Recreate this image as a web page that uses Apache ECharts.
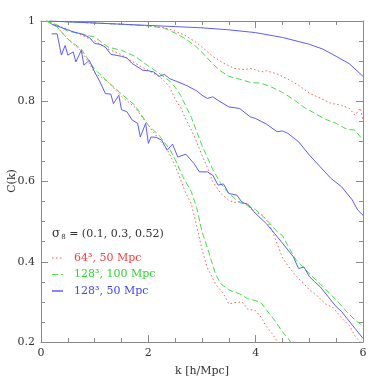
<!DOCTYPE html>
<html>
<head>
<meta charset="utf-8">
<script src="https://cdn.jsdelivr.net/npm/echarts@6/dist/echarts.min.js"></script>
<style>html,body{margin:0;padding:0;background:#fff}#c{width:383px;height:383px}</style>
</head>
<body>
<div id="c"></div>
<script>
// Legend / series names
const simNames = ['64\u00b3, 50 Mpc', '128\u00b3, 100 Mpc', '128\u00b3, 50 Mpc'];
const sigmaLabel = ['0.1', '0.3', '0.52'];
const xTicks = [0, 2, 4, 6];
const yTicks = [0.2, 0.4, 0.6, 0.8, 1];
const xTitle = 'k [h/Mpc]';
const yTitle = 'C(k)';

// 64^3, 50 Mpc (red dotted), sigma8 = 0.1, 0.3, 0.52
const red_s01 = [[0.1,1],[0.5,0.998],[1,0.995],[1.5,0.992],[2,0.988],[2.3,0.983],[2.5,0.975],[2.7,0.963],[2.9,0.946],[3.0,0.935],[3.2,0.912],[3.4,0.895],[3.6,0.882],[3.8,0.879],[3.9,0.882],[4.0,0.878],[4.1,0.873],[4.2,0.876],[4.4,0.868],[4.6,0.855],[4.8,0.840],[5.0,0.82],[5.2,0.808],[5.4,0.795],[5.6,0.79],[5.75,0.782],[5.85,0.765],[5.95,0.783],[6.0,0.753]];
const red_s03 = [[0.1,1.0],[0.3,0.99],[0.5,0.978],[0.75,0.965],[1,0.950],[1.25,0.930],[1.5,0.916],[1.75,0.895],[2,0.877],[2.2,0.862],[2.3,0.850],[2.4,0.835],[2.5,0.805],[2.6,0.785],[2.7,0.755],[2.85,0.715],[3.0,0.665],[3.1,0.635],[3.2,0.600],[3.35,0.570],[3.5,0.553],[3.6,0.548],[3.75,0.550],[3.85,0.540],[4.0,0.520],[4.1,0.520],[4.2,0.505],[4.3,0.480],[4.4,0.445],[4.5,0.410],[4.6,0.390],[4.75,0.365],[4.9,0.345],[5.0,0.330],[5.15,0.315],[5.3,0.295],[5.45,0.285],[5.6,0.260],[5.75,0.240],[5.85,0.215],[5.95,0.200]];
const red_s052 = [[0.1,1.0],[0.3,0.985],[0.5,0.955],[0.75,0.925],[0.9,0.895],[1.0,0.870],[1.1,0.862],[1.25,0.848],[1.5,0.812],[1.75,0.785],[2.0,0.740],[2.2,0.705],[2.35,0.680],[2.5,0.640],[2.6,0.605],[2.7,0.570],[2.8,0.545],[2.9,0.490],[3.0,0.430],[3.1,0.385],[3.25,0.345],[3.4,0.320],[3.5,0.295],[3.6,0.298],[3.75,0.300],[3.85,0.282],[4.0,0.278],[4.1,0.262],[4.2,0.238],[4.3,0.222],[4.4,0.202]];

// 128^3, 100 Mpc (green dashed)
const green_s01 = [[0.1,1],[0.5,0.998],[1,0.995],[1.5,0.992],[2,0.988],[2.3,0.982],[2.5,0.970],[2.7,0.955],[2.9,0.935],[3.0,0.922],[3.2,0.893],[3.35,0.875],[3.5,0.862],[3.7,0.855],[3.9,0.847],[4.1,0.845],[4.3,0.835],[4.5,0.822],[4.7,0.805],[4.9,0.785],[5.1,0.770],[5.3,0.755],[5.5,0.745],[5.7,0.730],[5.85,0.728],[6.0,0.703]];
const green_s03 = [[0.1,1.0],[0.3,0.99],[0.5,0.975],[0.75,0.968],[1,0.960],[1.25,0.935],[1.5,0.927],[1.75,0.912],[2,0.888],[2.2,0.870],[2.4,0.850],[2.5,0.835],[2.6,0.815],[2.8,0.760],[3.0,0.690],[3.1,0.660],[3.2,0.630],[3.35,0.595],[3.5,0.570],[3.7,0.548],[3.85,0.540],[4.0,0.530],[4.2,0.505],[4.4,0.475],[4.5,0.465],[4.6,0.440],[4.75,0.405],[4.9,0.385],[5.0,0.370],[5.2,0.345],[5.4,0.318],[5.5,0.305],[5.7,0.275],[5.85,0.255],[5.95,0.245],[6.0,0.240]];
const green_s052 = [[0.1,1.0],[0.3,0.985],[0.5,0.955],[0.75,0.930],[1.0,0.880],[1.25,0.848],[1.5,0.818],[1.75,0.790],[2.0,0.740],[2.2,0.715],[2.4,0.680],[2.5,0.655],[2.65,0.610],[2.8,0.575],[2.9,0.535],[3.0,0.475],[3.1,0.435],[3.25,0.370],[3.35,0.345],[3.5,0.330],[3.7,0.320],[3.85,0.308],[4.0,0.303],[4.1,0.298],[4.2,0.280],[4.35,0.255],[4.5,0.225],[4.6,0.210],[4.65,0.200]];

// 128^3, 50 Mpc (blue solid)
const blue_s01 = [[0.15,1.0],[0.5,0.998],[1,0.995],[1.5,0.992],[2,0.989],[2.5,0.986],[3,0.983],[3.5,0.978],[4,0.971],[4.5,0.959],[5,0.942],[5.25,0.93],[5.5,0.912],[5.75,0.893],[6,0.862]];
const blue_s03 = [[0.2,0.992],[0.35,0.985],[0.5,0.978],[0.6,0.973],[0.75,0.968],[0.9,0.959],[1.0,0.944],[1.1,0.942],[1.2,0.935],[1.3,0.917],[1.5,0.912],[1.6,0.908],[1.7,0.894],[1.9,0.877],[2.0,0.876],[2.1,0.873],[2.2,0.862],[2.3,0.867],[2.4,0.856],[2.5,0.851],[2.7,0.840],[2.9,0.826],[3.0,0.815],[3.1,0.807],[3.2,0.811],[3.3,0.802],[3.5,0.786],[3.7,0.782],[3.9,0.761],[4.0,0.757],[4.2,0.743],[4.4,0.724],[4.5,0.726],[4.6,0.720],[4.8,0.699],[5.0,0.666],[5.2,0.637],[5.4,0.608],[5.6,0.587],[5.8,0.554],[5.9,0.529],[6.0,0.516]];
const blue_s052 = [[0.2,0.968],[0.3,0.968],[0.38,0.915],[0.45,0.939],[0.5,0.915],[0.6,0.923],[0.65,0.898],[0.75,0.927],[0.8,0.890],[0.9,0.902],[1.0,0.873],[1.1,0.848],[1.2,0.819],[1.3,0.818],[1.35,0.794],[1.45,0.815],[1.5,0.779],[1.6,0.774],[1.7,0.753],[1.8,0.745],[1.85,0.711],[1.95,0.745],[2.0,0.695],[2.05,0.711],[2.15,0.710],[2.25,0.703],[2.35,0.678],[2.45,0.693],[2.55,0.661],[2.7,0.668],[2.85,0.645],[2.95,0.624],[3.1,0.624],[3.2,0.616],[3.3,0.591],[3.4,0.594],[3.5,0.570],[3.65,0.566],[3.75,0.547],[3.85,0.544],[4.0,0.520],[4.2,0.495],[4.35,0.471],[4.5,0.446],[4.7,0.413],[4.8,0.383],[4.9,0.387],[5.0,0.363],[5.1,0.350],[5.2,0.338],[5.35,0.313],[5.5,0.288],[5.6,0.276],[5.7,0.259],[5.85,0.234],[6.0,0.209]];

const RED = '#ff5a5a', GREEN = '#44e044', BLUE = '#5c5cff';
const LEG_TEXT = ['#ff3b3b', '#2fd42f', '#4040ff'];
const LINE_COL = [RED, GREEN, BLUE];
const DASH = [[1.5, 2.5], [6, 3], null];
const FONT = 'DejaVu Serif';
const AX = '#8a8a8a';

function mk(name, data, color, type) {
  return {
    name: name, type: 'line', data: data, symbol: 'none', showSymbol: false,
    clip: true, animation: false, silent: true,
    lineStyle: { color: color, width: 1, type: type || 'solid' },
    itemStyle: { color: color }
  };
}

const series = [
  mk(simNames[0], red_s01, RED, DASH[0]),
  mk(simNames[0], red_s03, RED, DASH[0]),
  mk(simNames[0], red_s052, RED, DASH[0]),
  mk(simNames[1], green_s01, GREEN, DASH[1]),
  mk(simNames[1], green_s03, GREEN, DASH[1]),
  mk(simNames[1], green_s052, GREEN, DASH[1]),
  mk(simNames[2], blue_s01, BLUE, DASH[2]),
  mk(simNames[2], blue_s03, BLUE, DASH[2]),
  mk(simNames[2], blue_s052, BLUE, DASH[2])
];

function axisCommon(show) {
  return {
    axisLine: { show: true, onZero: false, lineStyle: { color: AX, width: 1 } },
    axisTick: { show: true, inside: true, length: 7, lineStyle: { color: AX, width: 1 } },
    minorTick: { show: true, splitNumber: 4, length: 4, lineStyle: { color: AX, width: 1 } },
    splitLine: { show: false },
    axisLabel: { show: show, color: '#333', fontFamily: FONT, fontSize: 11 }
  };
}

// legend built from graphic elements (line sample + real text)
const legendGraphics = [];
const legTop = 258, legStep = 16.5;
simNames.forEach((n, i) => {
  const y = legTop + i * legStep;
  legendGraphics.push({
    type: 'line', silent: true,
    shape: { x1: 52, y1: y, x2: 63, y2: y },
    style: { stroke: LINE_COL[i], lineWidth: i === 2 ? 1.5 : 1, lineDash: DASH[i] || null }
  });
  legendGraphics.push({
    type: 'text', silent: true, x: 74, y: y,
    style: { text: n, fill: LEG_TEXT[i], font: '11px "DejaVu Serif"', verticalAlign: 'middle' }
  });
});

const chart = echarts.init(document.getElementById('c'), null, { renderer: 'canvas' });
chart.setOption({
  animation: false,
  backgroundColor: '#fff',
  grid: { left: 41, right: 20, top: 21, bottom: 41, containLabel: false, outerBoundsMode: 'none' },
  xAxis: [
    Object.assign(axisCommon(true), {
      type: 'value', min: xTicks[0], max: xTicks[xTicks.length - 1], interval: 2, position: 'bottom',
      name: xTitle, nameLocation: 'middle', nameGap: 24,
      nameTextStyle: { color: '#333', fontFamily: FONT, fontSize: 11 },
      axisLabel: { show: true, color: '#333', fontFamily: FONT, fontSize: 11, margin: 6 }
    }),
    Object.assign(axisCommon(false), {
      type: 'value', min: xTicks[0], max: xTicks[xTicks.length - 1], interval: 2, position: 'top'
    })
  ],
  yAxis: [
    Object.assign(axisCommon(true), {
      type: 'value', min: yTicks[0], max: yTicks[yTicks.length - 1], interval: 0.2, position: 'left',
      axisLabel: { show: true, color: '#333', fontFamily: FONT, fontSize: 11, margin: 6,
        formatter: v => (Math.abs(v - 1) < 1e-9 ? '1' : String(+v.toFixed(1))) }
    }),
    Object.assign(axisCommon(false), {
      type: 'value', min: yTicks[0], max: yTicks[yTicks.length - 1], interval: 0.2, position: 'right'
    })
  ],
  graphic: [{
    type: 'text', x: 12, y: 181, rotation: Math.PI / 2, silent: true,
    style: { text: yTitle, fill: '#333', font: '11px "DejaVu Serif"', align: 'center', verticalAlign: 'middle' }
  }, {
    type: 'text', x: 52, y: 234, silent: true,
    style: {
      text: '{s|\u03c3}{sub|8} = (' + sigmaLabel.join(', ') + ')',
      fill: '#333', font: '11px "DejaVu Serif"', verticalAlign: 'middle',
      rich: {
        s: { fontFamily: FONT, fontSize: 12, fill: '#333' },
        sub: { fontFamily: FONT, fontSize: 7, fill: '#333', padding: [6, 0, 0, 1] }
      }
    }
  }].concat(legendGraphics),
  series: series
});
</script>
</body>
</html>
